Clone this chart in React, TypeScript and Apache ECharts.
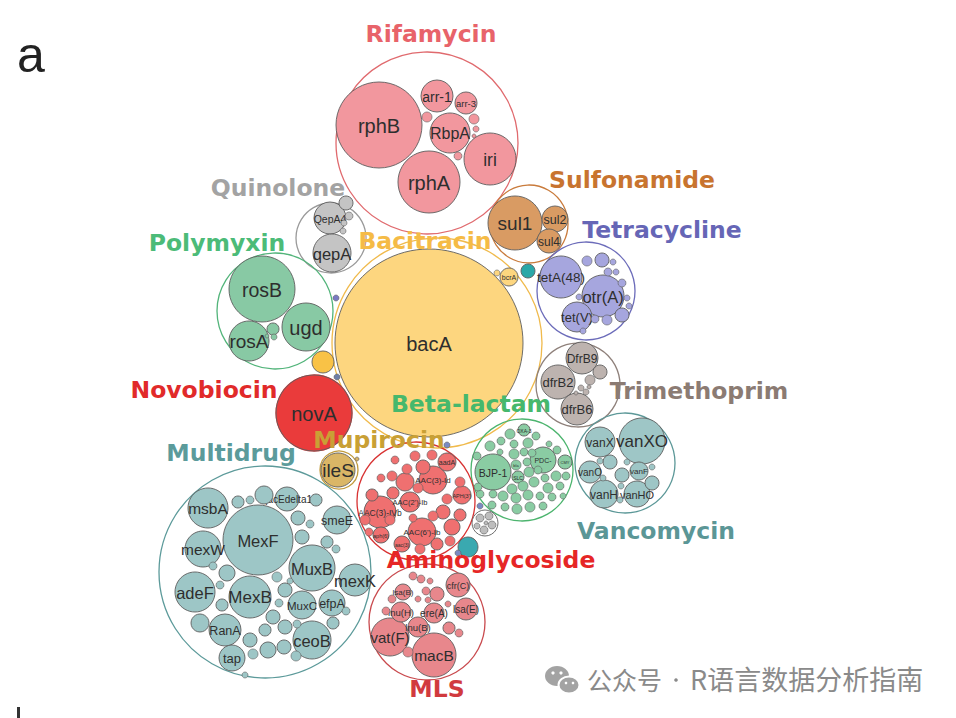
import React, { useEffect, useRef } from "react";
import * as echarts from "echarts";

type Gene = [string, number, number, number]; // name, x, y, radius (layout units)

const classNames = [
  "Rifamycin", "Quinolone", "Polymyxin", "Sulfonamide", "Tetracycline", "Bacitracin", "Novobiocin",
  "Trimethoprim", "Beta-lactam", "Mupirocin", "Multidrug", "Vancomycin", "Aminoglycoside", "MLS",
];
const classLabelX = [431, 278, 217, 632, 662, 425, 204, 699, 471, 379, 231, 656, 491, 437];
const classLabelY = [34, 188, 243, 180, 230, 241, 390, 391, 404, 440, 453, 531, 560, 689];
const classCircleX = [427, 331, 275, 529, 586, 437, 314, 578, 522, 339, 265, 625, 416, 427];
const classCircleY = [143, 238, 311, 224, 291, 343, 413, 385, 470, 470, 572, 463, 501, 622];
const classCircleR = [91, 35, 58, 39, 49, 105, 38, 42, 51, 19, 106, 50, 59, 58];

const rifamycinGenes: Gene[] = [
  ["rphB", 379, 125, 43], ["arr-1", 437, 96, 16], ["arr-3", 466, 103, 11], ["RbpA", 450, 133, 20],
  ["iri", 490, 159, 26], ["rphA", 429, 182, 31], ["", 427, 117, 5], ["", 474, 119, 5],
  ["", 476, 129, 3], ["", 458, 156, 4], ["", 474, 136, 2],
];
const quinoloneGenes: Gene[] = [
  ["QepA4", 330, 218, 16], ["qepA", 332, 253, 19], ["", 346, 203, 7], ["", 349, 216, 4],
  ["", 344, 223, 3], ["", 343, 231, 3],
];
const polymyxinGenes: Gene[] = [
  ["rosB", 262, 289, 33], ["ugd", 306, 327, 24], ["rosA", 249, 341, 20], ["", 273, 329, 6],
  ["", 274, 337, 3], ["", 267, 336, 2],
];
const sulfonamideGenes: Gene[] = [["sul1", 515, 223, 27], ["sul2", 555, 219, 13], ["sul4", 549, 241, 12]];
const tetracyclineGenes: Gene[] = [
  ["tetA(48)", 561, 277, 21], ["otr(A)", 603, 296, 21], ["tet(V)", 577, 317, 15], ["", 602, 260, 7],
  ["", 587, 261, 5], ["", 608, 272, 4], ["", 616, 272, 3], ["", 622, 283, 4], ["", 622, 315, 7],
  ["", 607, 320, 5], ["", 595, 319, 4], ["", 579, 297, 3], ["", 627, 298, 3], ["", 613, 262, 3],
  ["", 583, 331, 3], ["", 629, 306, 3],
];
const bacitracinGenes: Gene[] = [["bacA", 429, 343, 94], ["bcrA", 509, 277, 9], ["", 497, 273, 3]];
const novobiocinGenes: Gene[] = [["novA", 314, 413, 38]];
const trimethoprimGenes: Gene[] = [
  ["DfrB9", 582, 358, 16], ["dfrB2", 558, 382, 17], ["dfrB6", 577, 409, 16], ["", 600, 372, 7],
  ["", 590, 380, 5], ["", 581, 388, 3], ["", 586, 392, 3], ["", 576, 393, 2], ["", 589, 387, 2],
];
const betaLactamGenes: Gene[] = [
  ["BJP-1", 493, 472, 18], ["PDC-", 543, 460, 13], ["CMY", 565, 462, 7], ["OXA-3", 524, 430, 6],
  ["", 510, 434, 5], ["", 536, 436, 4], ["", 490, 446, 5], ["", 501, 441, 4], ["", 514, 444, 4],
  ["", 528, 443, 5], ["", 549, 444, 3], ["", 514, 454, 5], ["", 524, 452, 4], ["", 532, 453, 4],
  ["", 557, 450, 4], ["bla", 516, 465, 5], ["", 527, 462, 4], ["SLC", 518, 477, 6], ["", 529, 472, 5],
  ["", 556, 476, 5], ["", 566, 476, 4], ["", 512, 489, 5], ["", 523, 486, 5], ["", 534, 482, 5],
  ["", 545, 478, 4], ["", 548, 488, 5], ["", 560, 486, 4], ["", 480, 494, 4], ["", 493, 494, 4],
  ["", 503, 496, 5], ["", 516, 498, 5], ["", 528, 495, 5], ["", 540, 496, 4], ["", 552, 497, 4],
  ["", 492, 505, 4], ["", 505, 507, 4], ["", 517, 509, 5], ["", 530, 507, 5], ["", 543, 506, 4],
  ["", 477, 456, 4], ["", 478, 487, 4], ["", 500, 452, 3], ["", 538, 470, 4], ["", 563, 496, 3],
];
const mupirocinGenes: Gene[] = [["ileS", 338, 470, 17], ["", 357, 459, 2]];
const multidrugGenes: Gene[] = [
  ["MexF", 258, 540, 35], ["msbA", 208, 508, 20], ["mexW", 203, 549, 18], ["adeF", 195, 592, 20],
  ["MexB", 250, 597, 21], ["MuxB", 312, 568, 23], ["mexK", 355, 580, 16], ["smeE", 337, 520, 14],
  ["qacEdelta1", 287, 499, 12], ["MuxC", 302, 605, 14], ["efpA", 332, 603, 13], ["RanA", 225, 630, 16],
  ["ceoB", 312, 640, 19], ["tap", 232, 658, 13], ["", 264, 495, 9], ["", 238, 502, 6], ["", 250, 500, 4],
  ["", 298, 518, 7], ["", 302, 537, 7], ["", 310, 524, 4], ["", 327, 542, 6], ["", 336, 549, 4],
  ["", 316, 500, 6], ["", 227, 573, 8], ["", 222, 605, 6], ["", 200, 623, 9], ["", 277, 577, 5],
  ["", 285, 590, 7], ["", 279, 603, 4], ["", 273, 617, 7], ["", 285, 627, 7], ["", 265, 630, 6],
  ["", 250, 640, 7], ["", 268, 650, 8], ["", 253, 654, 5], ["", 284, 647, 7], ["", 333, 623, 6],
  ["", 346, 611, 4], ["", 297, 624, 4], ["", 290, 581, 3], ["", 213, 566, 4], ["", 220, 585, 4],
  ["", 296, 656, 5], ["", 245, 675, 3],
];
const vancomycinGenes: Gene[] = [
  ["vanXO", 642, 441, 23], ["vanX", 600, 442, 15], ["vanO", 590, 472, 11], ["vanH", 604, 494, 14],
  ["vanHO", 637, 494, 13], ["vanF", 639, 471, 9], ["", 622, 475, 7], ["", 610, 462, 7],
  ["", 652, 483, 7], ["", 600, 461, 3], ["", 627, 462, 3], ["", 603, 478, 3], ["", 620, 500, 3],
  ["", 621, 486, 3], ["", 652, 467, 3],
];
const aminoglycosideGenes: Gene[] = [
  ["AAC(3)-IVb", 380, 512, 16], ["AAC(3)-Id", 433, 480, 14], ["AAC(2')-Ib", 410, 502, 10],
  ["AAC(6')-Ib", 422, 532, 14], ["aadA", 447, 462, 9], ["aac(3)", 402, 544, 8], ["aph(6)", 381, 535, 8],
  ["APH(3')", 462, 495, 9], ["", 452, 527, 8], ["", 405, 482, 9], ["", 393, 493, 6], ["", 423, 467, 7],
  ["", 407, 469, 5], ["", 392, 476, 5], ["", 447, 499, 5], ["", 443, 512, 7], ["", 460, 515, 6],
  ["", 433, 516, 5], ["", 390, 520, 5], ["", 372, 495, 6], ["", 365, 520, 5], ["", 369, 532, 4],
  ["", 437, 544, 6], ["", 450, 541, 5], ["", 420, 549, 5], ["", 460, 482, 5], ["", 415, 456, 5],
  ["", 432, 455, 5], ["", 413, 518, 4], ["", 418, 488, 5], ["", 395, 460, 4], ["", 381, 478, 4],
];
const mlsGenes: Gene[] = [
  ["macB", 434, 655, 22], ["vat(F)", 390, 637, 19], ["lnu(B)", 418, 627, 10], ["lnu(H)", 401, 612, 10],
  ["ere(A)", 434, 613, 10], ["lsa(E)", 466, 609, 11], ["cfr(C)", 458, 585, 12], ["lsa(B)", 403, 592, 8],
  ["", 437, 594, 7], ["", 413, 576, 4], ["", 421, 579, 4], ["", 449, 628, 6], ["", 408, 652, 5],
  ["", 426, 591, 4], ["", 428, 600, 3], ["", 418, 599, 3], ["", 386, 611, 4], ["", 459, 633, 4],
  ["", 392, 599, 4], ["", 430, 581, 3], ["", 448, 604, 3],
];
const classGenes = [
  rifamycinGenes, quinoloneGenes, polymyxinGenes, sulfonamideGenes, tetracyclineGenes, bacitracinGenes,
  novobiocinGenes, trimethoprimGenes, betaLactamGenes, mupirocinGenes, multidrugGenes, vancomycinGenes,
  aminoglycosideGenes, mlsGenes,
];
// small unlabelled classes: x, y, radius
const minorX = [336, 323, 337, 528, 468, 458, 447, 480];
const minorY = [298, 362, 377, 271, 547, 553, 445, 506];
const minorR = [3, 11, 3, 7, 10, 3, 3, 3];
const minorCluster: Gene[] = [
  ["", 485, 523, 13], ["", 480, 518, 4], ["", 489, 516, 4], ["", 492, 525, 4], ["", 484, 530, 4],
  ["", 477, 526, 3], ["", 486, 523, 2],
];

// ---------- styles ----------
const classTextColor = [
  "#e8636a", "#a3a3a3", "#4cbb78", "#c8742f", "#6666b6", "#f5bb46", "#e12a2a",
  "#8b7b73", "#46b86c", "#c9a035", "#5b9b9b", "#5b9696", "#e62626", "#d13a3e",
];
const classFill = [
  "#f2979e", "#c4c4c4", "#88c9a4", "#d99b63", "#a6a6de", "#fdd67f", "#ea3b3b",
  "#bdb3af", "#8acca3", "#dab666", "#9dc6c6", "#9ec6c6", "#ef7070", "#e8878c",
];
const classStroke = [
  "#e06a6e", "#9a9a9a", "#52b47a", "#c97b3c", "#6c6cba", "#f0ba4c", "#e03a3a",
  "#8f817b", "#4cb46e", "#c29b3c", "#5c9a9a", "#5c9898", "#d83232", "#c94a4e",
];
const minorFill = ["#7a7ac4", "#f9c246", "#6f7fa8", "#2aa8a8", "#3aa9b0", "#7a8ac4", "#7a8ac4", "#7a8ac4"];
const geneFontSize: Record<string, number> = {
  bacA: 20, rphB: 20, rphA: 20, iri: 17.5, RbpA: 16, "arr-1": 14, "arr-3": 9.5, QepA4: 10.5, qepA: 16.5,
  rosB: 19.5, ugd: 20, rosA: 19, sul1: 19, sul2: 12.5, sul4: 12, "tetA(48)": 13.5, "otr(A)": 16.5,
  "tet(V)": 13, DfrB9: 12, dfrB2: 13, dfrB6: 13, novA: 20, ileS: 19, "BJP-1": 10.5, "PDC-": 7,
  CMY: 4, "OXA-3": 5, bla: 4, SLC: 5, bcrA: 7, vanXO: 17, vanX: 12, vanO: 10, vanH: 12, vanHO: 11,
  vanF: 8, MexF: 16.5, msbA: 15.5, mexW: 15.5, adeF: 16.5, MexB: 17, MuxB: 16.5, mexK: 16.5,
  smeE: 12.5, qacEdelta1: 10, MuxC: 11.5, efpA: 12.5, RanA: 12.5, ceoB: 16.5, tap: 13, macB: 15.5,
  "vat(F)": 15, "lnu(H)": 9.5, "ere(A)": 10, "lnu(B)": 9.5, "lsa(E)": 10, "cfr(C)": 9, "lsa(B)": 8,
  "AAC(3)-IVb": 8.5, "AAC(3)-Id": 8, "AAC(2')-Ib": 7.5, "AAC(6')-Ib": 8, aadA: 7, "aac(3)": 5,
  "aph(6)": 5.5, "APH(3')": 5.5,
};

type FlatGene = { name: string; x: number; y: number; r: number; fill: string };

function buildGenes(): FlatGene[] {
  const out: FlatGene[] = [];
  classGenes.forEach((list, ci) => {
    list.forEach((g) => out.push({ name: g[0], x: g[1], y: g[2], r: g[3], fill: classFill[ci] }));
  });
  minorX.forEach((x, i) => out.push({ name: "", x, y: minorY[i], r: minorR[i], fill: minorFill[i] }));
  minorCluster.forEach((g, i) =>
    out.push({ name: "", x: g[1], y: g[2], r: g[3], fill: i === 0 ? "#ffffff" : "#bdbdbd" })
  );
  return out;
}

export default function App() {
  const ref = useRef<HTMLDivElement>(null);
  useEffect(() => {
    document.body.style.margin = "0";
    if (!ref.current) return;
    const chart = echarts.init(ref.current, undefined, { renderer: "svg" });
    const genes = buildGenes();
    const wmFont = "Noto Sans CJK SC";

    const option: any = {
      animation: false,
      backgroundColor: "#ffffff",
      grid: { left: 0, right: 0, top: 0, bottom: 0 },
      xAxis: { type: "value", min: 0, max: 956, show: false },
      yAxis: { type: "value", min: 0, max: 718, inverse: true, show: false },
      graphic: [
        {
          type: "text", left: 17, top: 30, z: 10,
          style: { text: "a", fontSize: 50, fontFamily: "Liberation Sans, Arial, sans-serif", fill: "#222" },
        },
        { type: "rect", left: 17, top: 707, z: 10, shape: { width: 3, height: 11 }, style: { fill: "#333" } },
        {
          type: "group", left: 545, top: 666, z: 10,
          children: [
            { type: "ellipse", shape: { cx: 12, cy: 10, rx: 12, ry: 10 }, style: { fill: "#a3a3a3" } },
            { type: "ellipse", shape: { cx: 24, cy: 19, rx: 10.5, ry: 8.5 }, style: { fill: "#a3a3a3", stroke: "#fff", lineWidth: 2 } },
            { type: "circle", shape: { cx: 8, cy: 7, r: 1.6 }, style: { fill: "#fff" } },
            { type: "circle", shape: { cx: 16, cy: 7, r: 1.6 }, style: { fill: "#fff" } },
            { type: "circle", shape: { cx: 21, cy: 17, r: 1.3 }, style: { fill: "#fff" } },
            { type: "circle", shape: { cx: 28, cy: 17, r: 1.3 }, style: { fill: "#fff" } },
          ],
        },
        {
          type: "text", left: 587, top: 666, z: 10,
          style: { text: "公众号", fontSize: 25, fontFamily: wmFont, fill: "#8a8a8a" },
        },
        {
          type: "circle", z: 10, shape: { cx: 676, cy: 680, r: 1.8 }, style: { fill: "#8a8a8a" },
        },
        {
          type: "text", left: 690, top: 665, z: 10,
          style: { text: "R语言数据分析指南", fontSize: 27, fontFamily: wmFont, fill: "#8a8a8a" },
        },
      ],
      series: [
        {
          type: "custom",
          name: "classes",
          coordinateSystem: "cartesian2d",
          z: 1,
          silent: true,
          data: classNames.map((_, i) => [classCircleX[i], classCircleY[i], classCircleR[i]]),
          renderItem: (params: any, api: any) => {
            const c = api.coord([api.value(0), api.value(1)]);
            const r = api.size([api.value(2), 0])[0];
            return {
              type: "circle",
              shape: { cx: c[0], cy: c[1], r },
              style: { fill: "none", stroke: classStroke[params.dataIndex], lineWidth: 1.3 },
            };
          },
        },
        {
          type: "custom",
          name: "genes",
          coordinateSystem: "cartesian2d",
          z: 2,
          silent: true,
          data: genes.map((g) => [g.x, g.y, g.r]),
          renderItem: (params: any, api: any) => {
            const g = genes[params.dataIndex];
            const c = api.coord([api.value(0), api.value(1)]);
            const r = api.size([api.value(2), 0])[0];
            const children: any[] = [
              {
                type: "circle",
                shape: { cx: c[0], cy: c[1], r },
                style: { fill: g.fill, stroke: "#5e5e5e", lineWidth: r > 5 ? 0.9 : 0.6 },
              },
            ];
            if (g.name) {
              children.push({
                type: "text",
                style: {
                  text: g.name, x: c[0], y: c[1] + 0.5, fill: "#2e2e2e",
                  fontSize: geneFontSize[g.name] || 7,
                  fontFamily: "Liberation Sans, Arial, sans-serif",
                  align: "center", verticalAlign: "middle",
                },
              });
            }
            return { type: "group", children };
          },
        },
        {
          type: "custom",
          name: "classLabels",
          coordinateSystem: "cartesian2d",
          z: 5,
          silent: true,
          data: classNames.map((_, i) => [classLabelX[i], classLabelY[i]]),
          renderItem: (params: any, api: any) => {
            const c = api.coord([api.value(0), api.value(1)]);
            return {
              type: "text",
              style: {
                text: classNames[params.dataIndex], x: c[0], y: c[1],
                fill: classTextColor[params.dataIndex], fontSize: 23.5, fontWeight: "bold",
                fontFamily: "DejaVu Sans, Verdana, sans-serif", align: "center", verticalAlign: "middle",
              },
            };
          },
        },
      ],
    };
    chart.setOption(option);
    return () => chart.dispose();
  }, []);
  return <div ref={ref} style={{ width: 956, height: 718 }} />;
}
